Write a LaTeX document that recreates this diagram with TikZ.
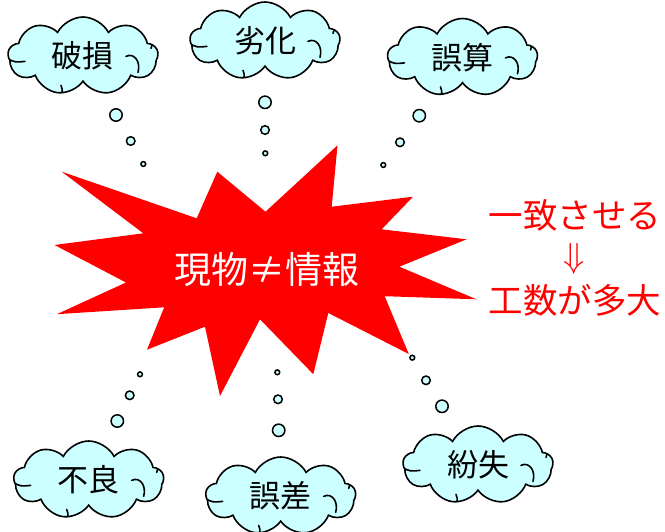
\documentclass[tikz,border=0pt]{standalone}
\usepackage{graphicx}
\usepackage{fontspec}
\setmainfont{Noto Sans CJK JP}
\usetikzlibrary{shapes.symbols}
\definecolor{cloudfill}{RGB}{204,255,255}
\definecolor{alarmred}{RGB}{255,0,0}

\newcommand{\pp}[2]{([shift={(#1,#2)}]path picture bounding box.center)}

\begin{document}
\begin{tikzpicture}[x=1pt, y=-1pt,
    curl/.style={line width=1.6pt, line cap=round},
    thought/.style={cloud, cloud puffs=9, cloud puff arc=125,
                    cloud ignores aspect, minimum width=150pt,
                    minimum height=78pt, inner sep=0pt,
                    draw=black, line width=1.6pt, fill=cloudfill,
                    font=\fontsize{31}{31}\selectfont,
                    path picture={
                      % inner curls, clipped to the cloud
                      \draw[curl] \pp{-76}{3} .. controls \pp{-68}{7} .. \pp{-58}{6};
                      \draw[curl] \pp{43}{1} .. controls \pp{51}{-3} and \pp{58}{6}
                                  .. \pp{55}{17};
                      \draw[curl] \pp{62}{-24} .. controls \pp{69}{-19} and \pp{71}{-13}
                                  .. \pp{68}{-7};
                      \draw[curl] \pp{-22}{30} .. controls \pp{-20}{36} .. \pp{-24}{42};
                    }},
    bubble/.style={draw=black, line width=1.5pt, fill=cloudfill},
    burst/.style={fill=alarmred},
    bursttext/.style={text=white, font=\fontsize{37}{37}\selectfont},
    redtext/.style={text=alarmred, font=\fontsize{34.5}{34.5}\selectfont},
]
\useasboundingbox (0,0) rectangle (665,531);

% ======================================================
% Centre: red explosion with the mismatch statement
% ======================================================
\fill[burst] (61.7,171.7) -- (196.7,218.3) -- (217.3,171.7) -- (265.5,211.7)
  -- (337.5,145.3) -- (331.7,206.7) -- (413,196.7) -- (381.7,229.3)
  -- (466.5,239.3) -- (399.3,266.7) -- (476.5,299.3) -- (384.7,296.2)
  -- (408.8,354) -- (328.3,313) -- (313.3,374.2) -- (260,319.3)
  -- (220,396) -- (205,326.7) -- (147,349.7) -- (164.2,307.3)
  -- (56.8,314.2) -- (126,282.5) -- (54.5,245) -- (143.3,233.3) -- cycle;
\node[bursttext] (core) at (267,270) {現物≠情報};

% ======================================================
% Thought clouds around the explosion
% ======================================================
\node[thought] (damage)  at (83,56)     {破損};
\node[thought] (decay)   at (265,41)    {劣化};
\node[thought] (miscalc) at (462.5,57.5) {誤算};
\node[thought] (defect)  at (88.7,480)  {不良};
\node[thought] (error)   at (280.7,496) {誤差};
\node[thought] (loss)    at (478,465)   {紛失};

% bubble trails: big, medium, small
\foreach \x/\y/\r in {116/115/6.2, 130.7/141/4.3, 143.3/164/2.4,
                      265/102.3/6.2, 265/130/4.3, 265.3/153.3/2.4,
                      419.3/115.7/6.2, 400/142.3/4.3, 383.3/165/2.4,
                      117.3/421/6.2, 129.7/395.3/4.3, 140/374.3/2.4,
                      278.7/430.3/6.2, 278/399.3/4.3, 277.3/372.3/2.4,
                      442/406.3/6.2, 426/380.3/4.3, 412.3/357.7/2.4} {
  \draw[bubble] (\x,\y) circle (\r);
}

% ======================================================
% Right: consequence
% ======================================================
\node[redtext] (match)  at (575,215) {一致させる};
\node[redtext, inner sep=0pt] (arrow) at (574,259)
     {\scalebox{1.4}{$\Downarrow$}};
\node[redtext] (effort) at (575,300) {工数が多大};

\end{tikzpicture}
\end{document}
